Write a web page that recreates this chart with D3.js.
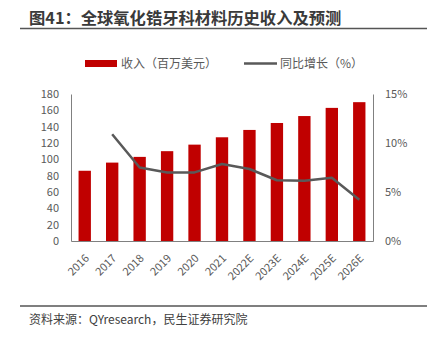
<!DOCTYPE html>
<html><head><meta charset="utf-8">
<script src="https://cdn.jsdelivr.net/npm/d3@7"></script>
<style>body{margin:0;background:#fff}svg{display:block}text{font-family:"Noto Sans CJK SC","Noto Sans",sans-serif}</style>
</head><body>
<svg id="c" width="434" height="340"></svg>
<script>
const categories = ["2016","2017","2018","2019","2020","2021","2022E","2023E","2024E","2025E","2026E"];
const revenue = [86, 96, 103, 110, 118, 127, 136, 144.5, 153, 163, 170];
const growth = [null, 10.9, 7.5, 7.0, 7.0, 7.85, 7.35, 6.2, 6.15, 6.45, 4.2];
const leftTicks = [0,20,40,60,80,100,120,140,160,180];
const rightTicks = [0,5,10,15];
const title = "图41：全球氧化锆牙科材料历史收入及预测";
const source = "资料来源：QYresearch，民生证券研究院";
const legendBar = "收入（百万美元）";
const legendLine = "同比增长（%）";

const svg = d3.select("#c");
const L = 71, R = 373, T = 94, B = 241;
const x = d3.scaleBand().domain(categories).range([L, R]).paddingInner(0.55).paddingOuter(0.275);
const y = d3.scaleLinear().domain([0, 180]).range([B, T]);
const y2 = d3.scaleLinear().domain([0, 15]).range([B, T]);

// title
svg.append("text").attr("x", 29).attr("y", 24).attr("font-size", 16.3).attr("font-weight", "bold").attr("fill", "#3a3a3a").text(title);
svg.append("line").attr("x1", 20).attr("x2", 427).attr("y1", 28.5).attr("y2", 28.5).attr("stroke", "#555").attr("stroke-width", 1.5);

// legend
svg.append("rect").attr("x", 85).attr("y", 60).attr("width", 32).attr("height", 7).attr("fill", "#C00000");
svg.append("text").attr("x", 121).attr("y", 67.5).attr("font-size", 12).attr("fill", "#595959").text(legendBar);
svg.append("line").attr("x1", 244).attr("x2", 277).attr("y1", 63.5).attr("y2", 63.5).attr("stroke", "#595959").attr("stroke-width", 2.5);
svg.append("text").attr("x", 280).attr("y", 67.5).attr("font-size", 12).attr("fill", "#595959").text(legendLine);

// bars
svg.append("g").selectAll("rect").data(revenue).join("rect")
  .attr("x", (d, i) => x(categories[i])).attr("width", x.bandwidth())
  .attr("y", d => y(d)).attr("height", d => B - y(d)).attr("fill", "#C00000");

// axes
const axL = d3.axisLeft(y).tickValues(leftTicks).tickSize(0).tickPadding(12);
const gL = svg.append("g").attr("transform", `translate(${L},0)`).call(axL);
const axR = d3.axisRight(y2).tickValues(rightTicks).tickSize(0).tickPadding(12).tickFormat(d => d + "%");
const gR = svg.append("g").attr("transform", `translate(${R},0)`).call(axR);
const axB = d3.axisBottom(x).tickSize(0).tickPadding(0);
const gB = svg.append("g").attr("transform", `translate(0,${B})`).call(axB);
[gL, gR, gB].forEach(g => {
  g.select(".domain").attr("stroke", "#808080").attr("stroke-width", 1);
  g.selectAll("text").attr("font-size", 11).attr("fill", "#595959").attr("font-family", "'Noto Sans','Open Sans',sans-serif");
});
gB.selectAll("text").attr("text-anchor", "end").attr("dy", 0)
  .attr("transform", "translate(5,18) rotate(-45)");

// line
const line = d3.line().defined(d => d != null)
  .x((d, i) => x(categories[i]) + x.bandwidth() / 2).y(d => y2(d));
svg.append("path").datum(growth).attr("d", line).attr("fill", "none")
  .attr("stroke", "#595959").attr("stroke-width", 2.5).attr("stroke-linejoin", "round");

// footer
svg.append("line").attr("x1", 20).attr("x2", 427).attr("y1", 306).attr("y2", 306).attr("stroke", "#555").attr("stroke-width", 1.5);
svg.append("text").attr("x", 29).attr("y", 324).attr("font-size", 12).attr("fill", "#404040").text(source);
</script>
</body></html>
